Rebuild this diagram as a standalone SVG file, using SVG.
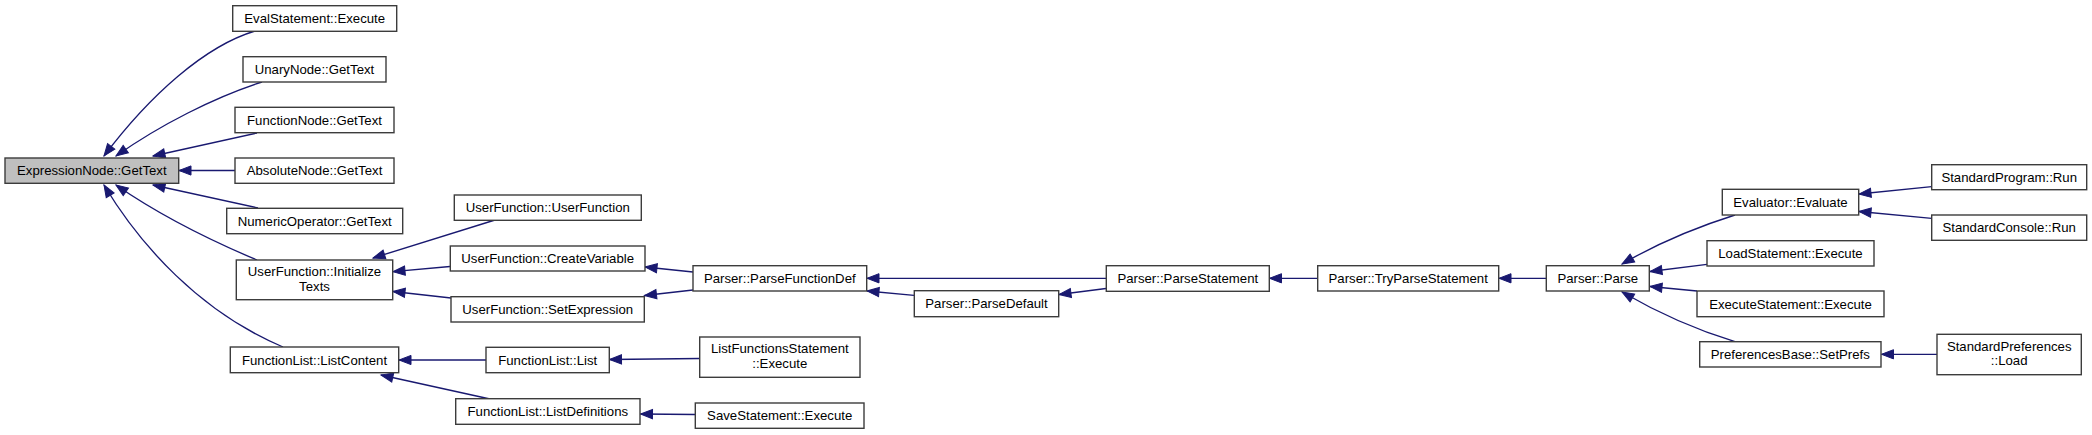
<svg xmlns="http://www.w3.org/2000/svg" width="2092" height="435" viewBox="0 0 2092 435">
<defs>
<marker id="ah" markerUnits="userSpaceOnUse" markerWidth="14" markerHeight="12" refX="12" refY="0" viewBox="0 -6 14 12" orient="auto" overflow="visible">
<path d="M0,-4.6 L12,0 L0,4.6 Z" fill="#191970" stroke="#191970" stroke-width="1"/>
</marker>
<style>
.n rect{fill:#ffffff;stroke:#3c3c3c;stroke-width:1.4}
.n.hl rect{fill:#bfbfbf}
.n text{font-family:"Liberation Sans",Arial,sans-serif;font-size:13.2px;fill:#000;text-anchor:middle}
#edges path{fill:none;stroke:#191970;stroke-width:1.35;marker-end:url(#ah)}
</style>
</defs>
<rect width="2092" height="435" fill="#fff"/>
<g id="edges">
<path d="M255,31 C205,46 150,95 104,156"/>
<path d="M262,82 C215,97 160,125 116,156"/>
<path d="M257,133 L153,156"/>
<path d="M235,170.5 L179,170.5"/>
<path d="M258,208 L153,185"/>
<path d="M257,260 C200,236 155,212 116,185"/>
<path d="M283,347 C200,312 140,245 104,185"/>
<path d="M495,220 L373,258"/>
<path d="M450,266.5 L393,271.7"/>
<path d="M451,298 L393,291.5"/>
<path d="M486,360 L399,360"/>
<path d="M490,399 L381,375"/>
<path d="M700,358.5 L609.5,359.5"/>
<path d="M695,414.5 L640.5,414"/>
<path d="M693,272 L645,267"/>
<path d="M693,290 L644.5,295.5"/>
<path d="M1106,278.3 L867,278.3"/>
<path d="M914,295.3 L867,291"/>
<path d="M1106,288.5 L1059,294.5"/>
<path d="M1318,278.3 L1269.5,278.3"/>
<path d="M1546,278.3 L1499,278.3"/>
<path d="M1735,215 C1700,226 1660,242 1622,264"/>
<path d="M1707,264.3 L1650,271.5"/>
<path d="M1697,291 L1650,286.5"/>
<path d="M1735,341.7 C1700,331 1660,314 1622,292"/>
<path d="M1931.7,186.7 L1859,194"/>
<path d="M1931.7,218.3 L1859,211.5"/>
<path d="M1937,354.3 L1881.5,354.3"/>
</g>
<g id="n_expr" class="n hl"><rect x="5" y="158" width="173.7" height="25.3"/><text x="91.8" y="175.4">ExpressionNode::GetText</text></g>
<g id="n_evalstmt" class="n"><rect x="232.7" y="5.7" width="164" height="25.6"/><text x="314.7" y="23">EvalStatement::Execute</text></g>
<g id="n_unary" class="n"><rect x="243" y="56.7" width="143" height="25.3"/><text x="314.5" y="74">UnaryNode::GetText</text></g>
<g id="n_funcnode" class="n"><rect x="235" y="107.3" width="159" height="25.4"/><text x="314.5" y="124.7">FunctionNode::GetText</text></g>
<g id="n_abs" class="n"><rect x="235" y="158" width="159" height="25.3"/><text x="314.5" y="175.4">AbsoluteNode::GetText</text></g>
<g id="n_numop" class="n"><rect x="226.7" y="208.3" width="176" height="25.4"/><text x="314.7" y="225.7">NumericOperator::GetText</text></g>
<g id="n_inittexts" class="n"><rect x="236.3" y="260" width="156.4" height="39.7"/><text x="314.5" y="276.3">UserFunction::Initialize</text><text x="314.5" y="291.3">Texts</text></g>
<g id="n_listcontent" class="n"><rect x="230.3" y="347" width="168.4" height="25.7"/><text x="314.5" y="364.5">FunctionList::ListContent</text></g>
<g id="n_userfunc" class="n"><rect x="454.3" y="195" width="187" height="25.3"/><text x="547.8" y="212.4">UserFunction::UserFunction</text></g>
<g id="n_createvar" class="n"><rect x="450.3" y="246" width="194.7" height="25"/><text x="547.7" y="263.2">UserFunction::CreateVariable</text></g>
<g id="n_setexpr" class="n"><rect x="451" y="296.7" width="193.3" height="25.3"/><text x="547.7" y="314">UserFunction::SetExpression</text></g>
<g id="n_list" class="n"><rect x="486" y="347.3" width="123.3" height="25.4"/><text x="547.7" y="364.7">FunctionList::List</text></g>
<g id="n_listdefs" class="n"><rect x="455.7" y="398.7" width="184.3" height="25.6"/><text x="547.8" y="416">FunctionList::ListDefinitions</text></g>
<g id="n_pfdef" class="n"><rect x="693" y="265.7" width="173.7" height="25.3"/><text x="779.8" y="283">Parser::ParseFunctionDef</text></g>
<g id="n_lfstmt" class="n"><rect x="699.7" y="337" width="160.3" height="40.3"/><text x="779.8" y="353.3">ListFunctionsStatement</text><text x="779.8" y="367.6">::Execute</text></g>
<g id="n_savestmt" class="n"><rect x="695.3" y="403" width="168.7" height="25.3"/><text x="779.7" y="420.4">SaveStatement::Execute</text></g>
<g id="n_pdefault" class="n"><rect x="914.3" y="290.7" width="144.4" height="26"/><text x="986.5" y="308.3">Parser::ParseDefault</text></g>
<g id="n_pstmt" class="n"><rect x="1106.3" y="265.7" width="163" height="25.6"/><text x="1187.8" y="283">Parser::ParseStatement</text></g>
<g id="n_trypstmt" class="n"><rect x="1317.7" y="265.7" width="181" height="25.3"/><text x="1408.2" y="283">Parser::TryParseStatement</text></g>
<g id="n_parse" class="n"><rect x="1546.3" y="265.7" width="103" height="25.3"/><text x="1597.8" y="283">Parser::Parse</text></g>
<g id="n_evaluate" class="n"><rect x="1722.3" y="189.3" width="136.4" height="25.7"/><text x="1790.5" y="206.8">Evaluator::Evaluate</text></g>
<g id="n_loadstmt" class="n"><rect x="1707" y="240.7" width="167" height="25.3"/><text x="1790.5" y="258">LoadStatement::Execute</text></g>
<g id="n_execstmt" class="n"><rect x="1697" y="291" width="187" height="25.7"/><text x="1790.5" y="308.5">ExecuteStatement::Execute</text></g>
<g id="n_setprefs" class="n"><rect x="1699.7" y="341.7" width="181.3" height="25.3"/><text x="1790.3" y="359">PreferencesBase::SetPrefs</text></g>
<g id="n_stdprog" class="n"><rect x="1931.7" y="164.7" width="155" height="25"/><text x="2009.2" y="181.8">StandardProgram::Run</text></g>
<g id="n_stdcons" class="n"><rect x="1931.7" y="215" width="155" height="25.3"/><text x="2009.2" y="232.3">StandardConsole::Run</text></g>
<g id="n_stdprefs" class="n"><rect x="1937" y="334.3" width="144.3" height="40.4"/><text x="2009.2" y="351.3">StandardPreferences</text><text x="2009.2" y="365.3">::Load</text></g>
</svg>
